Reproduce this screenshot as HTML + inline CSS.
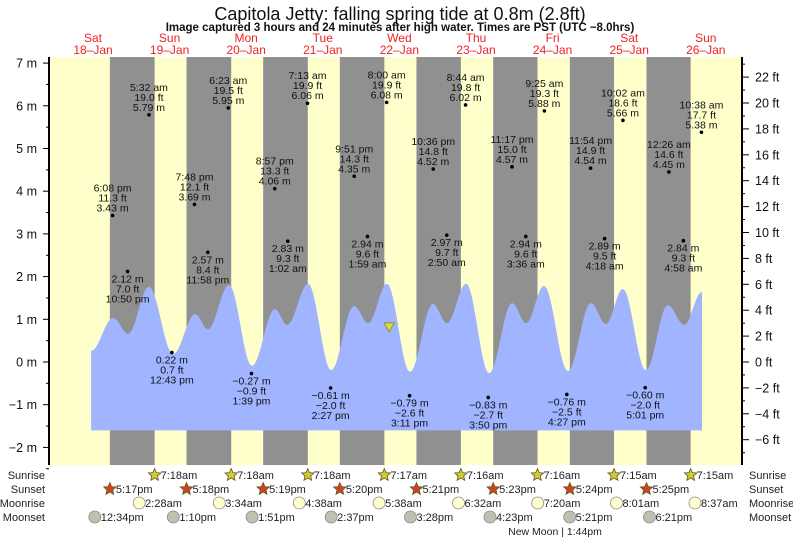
<!DOCTYPE html>
<html><head><meta charset="utf-8">
<style>
body{margin:0;background:#fff;}
svg{display:block;font-family:"Liberation Sans",sans-serif;}
</style></head>
<body>
<svg id="c" width="793" height="539" viewBox="0 0 793 539" xmlns="http://www.w3.org/2000/svg">
<text x="400" y="20" font-size="18" text-anchor="middle" fill="#111">Capitola Jetty: falling  spring tide at 0.8m (2.8ft)</text>
<text x="400" y="31" font-size="11.5" font-weight="bold" text-anchor="middle" fill="#111">Image captured 3 hours and 24 minutes after high water. Times are PST (UTC −8.0hrs)</text>
<g id="plot"></g>
</svg>
<script>
const dayNames=["Sat","Sun","Mon","Tue","Wed","Thu","Fri","Sat","Sun"];
const dayDates=["18–Jan","19–Jan","20–Jan","21–Jan","22–Jan","23–Jan","24–Jan","25–Jan","26–Jan"];
const sunsetTimes=["5:17pm","5:18pm","5:19pm","5:20pm","5:21pm","5:23pm","5:24pm","5:25pm"];
const sunriseTimes=["7:18am","7:18am","7:18am","7:17am","7:16am","7:16am","7:15am","7:15am"];
const moonriseTimes=["2:28am","3:34am","4:38am","5:38am","6:32am","7:20am","8:01am","8:37am"];
const moonsetTimes=["12:34pm","1:10pm","1:51pm","2:37pm","3:28pm","4:23pm","5:21pm","6:21pm"];
// tide extremes: day index, time, ft, m, type
const tideDays=[0,0,1,1,1,1,2,2,2,3,3,3,3,4,4,4,4,5,5,5,5,6,6,6,6,7,7,7,8,8,8];
const tideTimes=["6:08 pm","10:50 pm","5:32 am","12:43 pm","7:48 pm","11:58 pm","6:23 am","1:39 pm","8:57 pm","1:02 am","7:13 am","2:27 pm","9:51 pm","1:59 am","8:00 am","3:11 pm","10:36 pm","2:50 am","8:44 am","3:50 pm","11:17 pm","3:36 am","9:25 am","4:27 pm","11:54 pm","4:18 am","10:02 am","5:01 pm","12:26 am","4:58 am","10:38 am"];
const tideFt=["11.3","7.0","19.0","0.7","12.1","8.4","19.5","−0.9","13.3","9.3","19.9","−2.0","14.3","9.6","19.9","−2.6","14.8","9.7","19.8","−2.7","15.0","9.6","19.3","−2.5","14.9","9.5","18.6","−2.0","14.6","9.3","17.7"];
const tideM=[3.43,2.12,5.79,0.22,3.69,2.57,5.95,-0.27,4.06,2.83,6.06,-0.61,4.35,2.94,6.08,-0.79,4.52,2.97,6.02,-0.83,4.57,2.94,5.88,-0.76,4.54,2.89,5.66,-0.60,4.45,2.84,5.38];
const tideType=["H","L","H","L","H","L","H","L","H","L","H","L","H","L","H","L","H","L","H","L","H","L","H","L","H","L","H","L","H","L","H"];
// drawn curve turning points (hours since Sat 00:00, displayed level in m)
const curveHours=[11.4,18.3,23.0,29.5,37.1,44.0,48.0,54.6,61.8,69.0,72.8,79.4,86.6,93.8,98.2,104.1,111.3,118.5,122.9,128.9,136.1,143.3,147.7,153.3,160.8,168.0,172.7,178.0,185.2,192.1,197.2,202.8];
const curveLevels=[0.26,1.03,0.66,1.76,0.19,1.12,0.77,1.80,-0.09,1.24,0.87,1.83,-0.19,1.31,0.91,1.83,-0.23,1.36,0.91,1.83,-0.26,1.38,0.91,1.78,-0.21,1.38,0.89,1.71,-0.19,1.33,0.87,1.64];
const mTicks=[7,6,5,4,3,2,1,0,-1,-2];
const ftTicks=[22,20,18,16,14,12,10,8,6,4,2,0,-2,-4,-6];
const nowHour=104.8, nowLevel=0.8, curveBase=-1.6;

const NS="http://www.w3.org/2000/svg";
const g=document.getElementById('plot');
const PL=49,PR=742,PT=57,PB=465;
const x=h=>54.7+h*76.6/24;
const y=m=>362-m*42.7;
const yft=f=>362-f*12.95;
function parseT(s){const m=s.match(/(\d+):(\d+)\s*(am|pm)/);let h=+m[1]%12;if(m[3]=="pm")h+=12;return h+ +m[2]/60;}
function el(tag,attrs,parent){const e=document.createElementNS(NS,tag);for(const k in attrs)e.setAttribute(k,attrs[k]);(parent||g).appendChild(e);return e;}
function txt(s,xx,yy,attrs){const e=el('text',Object.assign({x:xx,y:yy,'font-size':11,fill:'#111'},attrs||{}));e.textContent=s;return e;}

let bg=el('rect',{x:PL,y:PT,width:PR-PL,height:PB-PT,fill:'#ffffcc'});


for(let d=0;d<sunsetTimes.length;d++){
  const x1=x(d*24+parseT(sunsetTimes[d])), x2=Math.min(PR,x((d+1)*24+parseT(sunriseTimes[d])));
  const r=el('rect',{x:x1,y:PT,width:x2-x1,height:PB-PT,fill:'#909090'});
  
  
}
let pts=[];
for(let i=0;i<curveHours.length-1;i++){
  const h0=curveHours[i],h1=curveHours[i+1],v0=curveLevels[i],v1=curveLevels[i+1];
  for(let k=0;k<20;k++){const t=k/20;const v=v0+(v1-v0)*(1-Math.cos(Math.PI*t))/2;pts.push([x(h0+(h1-h0)*t),y(v)]);}
}
pts.push([x(curveHours[curveHours.length-1]),y(curveLevels[curveLevels.length-1])]);
let d='M'+pts[0][0]+','+y(curveBase)+pts.map(p=>'L'+p[0].toFixed(1)+','+p[1].toFixed(1)).join('')+'L'+pts[pts.length-1][0]+','+y(curveBase)+'Z';
let cp=el('path',{d:d,fill:'#a0b4ff'});


let nm=el('path',{d:`M${x(nowHour)-5},${y(nowLevel)-5}L${x(nowHour)+5},${y(nowLevel)-5}L${x(nowHour)},${y(nowLevel)+4}Z`,fill:'#dddd33',stroke:'#888822','stroke-width':0.8});


for(let i=0;i<tideM.length;i++){
  const h=tideDays[i]*24+parseT(tideTimes[i]);const xx=x(h),yy=y(tideM[i]);
  const gg=el('g',{});
  
  
  el('circle',{cx:xx,cy:yy,r:1.8,fill:'#000'},gg);
  const m=(tideM[i]<0?'−'+Math.abs(tideM[i]).toFixed(2):tideM[i].toFixed(2))+' m';
  const lines=tideType[i]=="H"?[tideTimes[i],tideFt[i]+' ft',m]:[m,tideFt[i]+' ft',tideTimes[i]];
  const base=tideType[i]=="H"?yy-24:yy+11;
  lines.forEach((s,j)=>{const t=txt(s,xx,base+j*10,{'text-anchor':'middle','font-size':10.5});gg.appendChild(t);});
}
el('line',{x1:PL,y1:PT,x2:PL,y2:PB,stroke:'#000','stroke-width':2});
el('line',{x1:PR,y1:PT,x2:PR,y2:PB,stroke:'#000','stroke-width':2});
for(let v=-2.5;v<=7.01;v+=0.5){const major=Math.abs(v-Math.round(v))<0.01;el('line',{x1:PL-(major?6:3),y1:y(v),x2:PL,y2:y(v),stroke:'#000'});}
mTicks.forEach(v=>{const t=txt((v<0?'−'+(-v):v)+' m',37,y(v)+4.5,{'text-anchor':'end','font-size':12.5});

});
for(let f=-7;f<=23;f++){el('line',{x1:PR,y1:yft(f),x2:PR+(f%2==0?7:3),y2:yft(f),stroke:'#000'});}
ftTicks.forEach(f=>{const t=txt((f<0?'−'+(-f):f)+' ft',755,yft(f)+4.5,{'font-size':12.5});

});
for(let i=0;i<dayNames.length;i++){const xx=x(i*24+12);
  const a=txt(dayNames[i],xx,42,{'text-anchor':'middle','font-size':12,fill:'#ee2222'});
  
  
  const b=txt(dayDates[i],xx,54,{'text-anchor':'middle','font-size':12,fill:'#ee2222'});
  
  }
const rows=[["Sunrise",475],["Sunset",489],["Moonrise",503],["Moonset",517]];
rows.forEach(r=>{const a=txt(r[0],45,r[1]+4,{'text-anchor':'end','font-size':11,fill:'#222'});


const b=txt(r[0],749,r[1]+4,{'font-size':11,fill:'#222'});

});
function star(cx,cy,fill){let p='';for(let k=0;k<10;k++){const a=-Math.PI/2+k*Math.PI/5,r=k%2?3:6.5;p+=(k?'L':'M')+(cx+r*Math.cos(a)).toFixed(1)+','+(cy+r*Math.sin(a)).toFixed(1);}return el('path',{d:p+'Z',fill:fill,stroke:'#665522','stroke-width':0.8});}
function rowItem(xx,yy,s,kind,name){
  const gg=el('g',{});
  
  
  let ic;
  if(kind=='rise')ic=star(xx,yy,'#cccc33');
  else if(kind=='set')ic=star(xx,yy,'#cc4422');
  else ic=el('circle',{cx:xx,cy:yy,r:6,fill:kind=='mr'?'#ffffcc':'#c0c0b0',stroke:'#888','stroke-width':0.8});
  gg.appendChild(ic);
  gg.appendChild(txt(s,xx+6,yy+4,{'font-size':11,fill:'#222'}));
}
sunriseTimes.forEach((s,i)=>rowItem(x((i+1)*24+parseT(s)),475,s,'rise','sunrise-entry'));
sunsetTimes.forEach((s,i)=>rowItem(x(i*24+parseT(s)),489,s,'set','sunset-entry'));
moonriseTimes.forEach((s,i)=>rowItem(x((i+1)*24+parseT(s)),503,s,'mr','moonrise-entry'));
moonsetTimes.forEach((s,i)=>rowItem(x(i*24+parseT(s)),517,s,'ms','moonset-entry'));
const nmx=x(6*24+parseT("1:44pm"));
const nt=txt('New Moon | 1:44pm',nmx-50,535,{'font-size':10.5,fill:'#222'});


</script>
</body></html>
